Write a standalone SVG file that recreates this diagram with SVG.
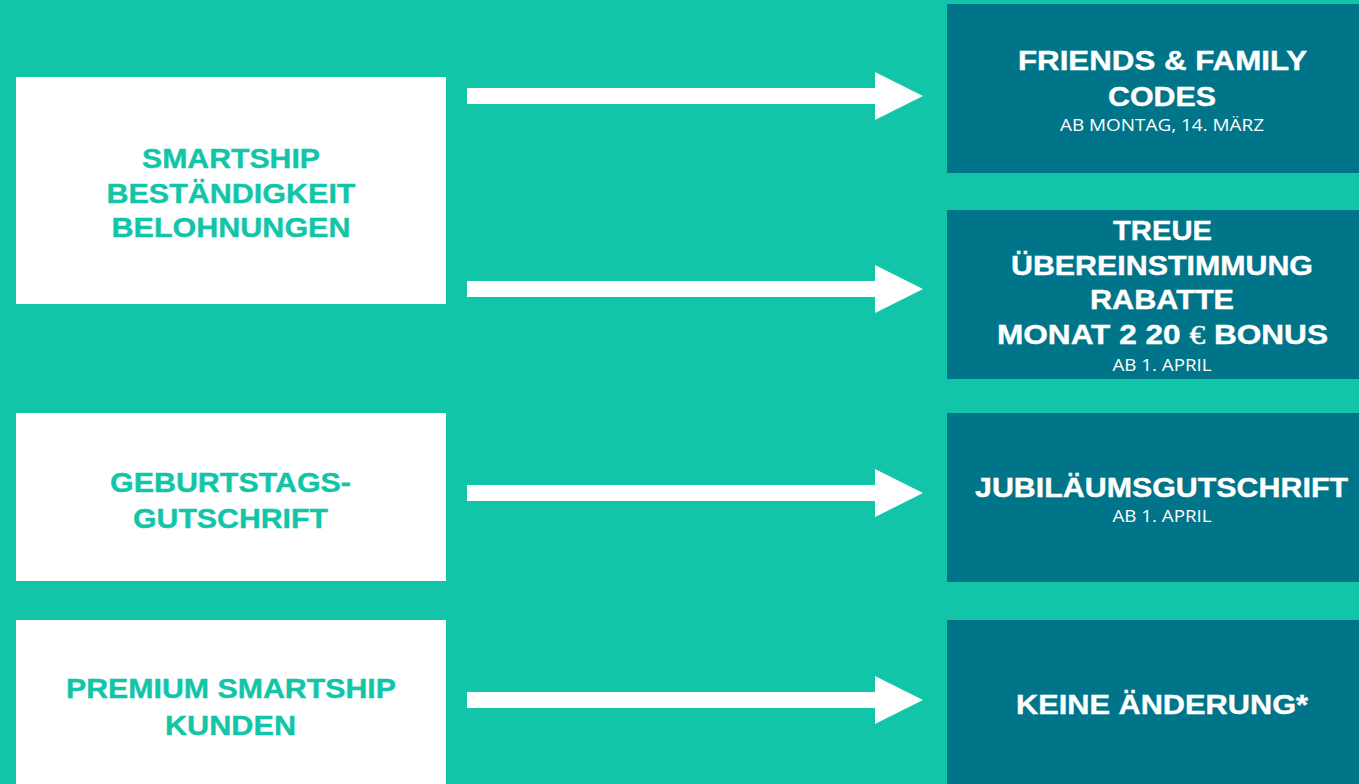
<svg xmlns="http://www.w3.org/2000/svg" width="1359" height="784" viewBox="0 0 1359 784">
<style>
.bg{fill:#12C5A8}
.src{fill:#FFFFFF}
.dst{fill:#00758A}
.h{font-family:"Liberation Sans","Arial",sans-serif;font-weight:bold;font-size:28px;text-anchor:middle;stroke-width:0.4px}
.hs{fill:#12C5A8;stroke:#12C5A8}
.hd{fill:#FFFFFF;stroke:#FFFFFF}
.sub{font-family:"Open Sans","Liberation Sans",sans-serif;font-size:16px;fill:#FFFFFF;text-anchor:middle}
.arrow{fill:#FFFFFF}
</style>
<defs>
<polygon id="arr" points="0,-8 408,-8 408,-24 456,0 408,24 408,8 0,8"/>
</defs>
<rect class="bg" x="0" y="0" width="1359" height="784"/>
<g id="src-smartship">
<rect class="src" x="16" y="77" width="430" height="227"/>
<text class="h hs" x="231" y="168" textLength="178" lengthAdjust="spacingAndGlyphs">SMARTSHIP</text>
<text class="h hs" x="231" y="203" textLength="249" lengthAdjust="spacingAndGlyphs">BESTÄNDIGKEIT</text>
<text class="h hs" x="231" y="237" textLength="239" lengthAdjust="spacingAndGlyphs">BELOHNUNGEN</text>
</g>
<g id="src-geburtstag">
<rect class="src" x="16" y="413" width="430" height="168"/>
<text class="h hs" x="230.5" y="492" textLength="241" lengthAdjust="spacingAndGlyphs">GEBURTSTAGS-</text>
<text class="h hs" x="230.5" y="528" textLength="195" lengthAdjust="spacingAndGlyphs">GUTSCHRIFT</text>
</g>
<g id="src-premium">
<rect class="src" x="16" y="620" width="430" height="164"/>
<text class="h hs" x="231" y="698" textLength="330" lengthAdjust="spacingAndGlyphs">PREMIUM SMARTSHIP</text>
<text class="h hs" x="230.5" y="735" textLength="131" lengthAdjust="spacingAndGlyphs">KUNDEN</text>
</g>
<g id="dst-friends">
<rect class="dst" x="947" y="4" width="412" height="169"/>
<text class="h hd" x="1162.5" y="70" textLength="289" lengthAdjust="spacingAndGlyphs">FRIENDS &amp; FAMILY</text>
<text class="h hd" x="1162" y="106" textLength="108" lengthAdjust="spacingAndGlyphs">CODES</text>
<text class="sub" x="1162" y="131" textLength="204" lengthAdjust="spacingAndGlyphs">AB MONTAG, 14. MÄRZ</text>
</g>
<g id="dst-treue">
<rect class="dst" x="947" y="210" width="412" height="169"/>
<text class="h hd" x="1162.5" y="240" textLength="99" lengthAdjust="spacingAndGlyphs">TREUE</text>
<text class="h hd" x="1162" y="275" textLength="302" lengthAdjust="spacingAndGlyphs">ÜBEREINSTIMMUNG</text>
<text class="h hd" x="1162" y="309" textLength="144" lengthAdjust="spacingAndGlyphs">RABATTE</text>
<text class="h hd" x="1162.5" y="344" textLength="331" lengthAdjust="spacingAndGlyphs">MONAT 2 20 <tspan font-family="Liberation Serif, serif" font-weight="normal">€</tspan> BONUS</text>
<text class="sub" x="1162" y="371" textLength="99" lengthAdjust="spacingAndGlyphs">AB 1. APRIL</text>
</g>
<g id="dst-jubilaeum">
<rect class="dst" x="947" y="413" width="412" height="169"/>
<text class="h hd" x="1161.5" y="497" textLength="373" lengthAdjust="spacingAndGlyphs">JUBILÄUMSGUTSCHRIFT</text>
<text class="sub" x="1162" y="522" textLength="99" lengthAdjust="spacingAndGlyphs">AB 1. APRIL</text>
</g>
<g id="dst-keine">
<rect class="dst" x="947" y="620" width="412" height="164"/>
<text class="h hd" x="1162" y="714" textLength="292" lengthAdjust="spacingAndGlyphs">KEINE ÄNDERUNG*</text>
</g>
<g id="connectors" class="arrow">
<use href="#arr" x="467" y="96"/>
<use href="#arr" x="467" y="289"/>
<use href="#arr" x="467" y="493"/>
<use href="#arr" x="467" y="700"/>
</g>
</svg>
